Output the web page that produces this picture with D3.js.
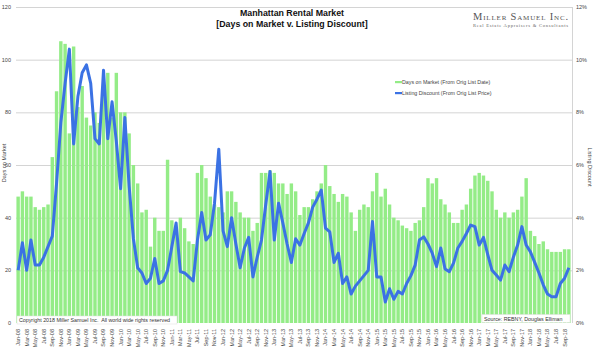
<!DOCTYPE html>
<html><head><meta charset="utf-8">
<script src="https://cdn.jsdelivr.net/npm/d3@7"></script>
<style>body{margin:0;background:#fff}svg{display:block}text{font-family:"Liberation Sans",Arial,sans-serif}</style>
</head><body><svg id="c" width="600" height="355"></svg>
<script>
const months = [
"Jan-08","Feb-08","Mar-08","Apr-08","May-08","Jun-08","Jul-08","Aug-08","Sep-08","Oct-08","Nov-08","Dec-08",
"Jan-09","Feb-09","Mar-09","Apr-09","May-09","Jun-09","Jul-09","Aug-09","Sep-09","Oct-09","Nov-09","Dec-09",
"Jan-10","Feb-10","Mar-10","Apr-10","May-10","Jun-10","Jul-10","Aug-10","Sep-10","Oct-10","Nov-10","Dec-10",
"Jan-11","Feb-11","Mar-11","Apr-11","May-11","Jun-11","Jul-11","Aug-11","Sep-11","Oct-11","Nov-11","Dec-11",
"Jan-12","Feb-12","Mar-12","Apr-12","May-12","Jun-12","Jul-12","Aug-12","Sep-12","Oct-12","Nov-12","Dec-12",
"Jan-13","Feb-13","Mar-13","Apr-13","May-13","Jun-13","Jul-13","Aug-13","Sep-13","Oct-13","Nov-13","Dec-13",
"Jan-14","Feb-14","Mar-14","Apr-14","May-14","Jun-14","Jul-14","Aug-14","Sep-14","Oct-14","Nov-14","Dec-14",
"Jan-15","Feb-15","Mar-15","Apr-15","May-15","Jun-15","Jul-15","Aug-15","Sep-15","Oct-15","Nov-15","Dec-15",
"Jan-16","Feb-16","Mar-16","Apr-16","May-16","Jun-16","Jul-16","Aug-16","Sep-16","Oct-16","Nov-16","Dec-16",
"Jan-17","Feb-17","Mar-17","Apr-17","May-17","Jun-17","Jul-17","Aug-17","Sep-17","Oct-17","Nov-17","Dec-17",
"Jan-18","Feb-18","Mar-18","Apr-18","May-18","Jun-18","Jul-18","Aug-18","Sep-18","Oct-18"];

const daysOnMarket = [
48,50,48,48,44,43,44,45,63,88,107,106,
72,105,82,90,78,75,80,76,90,95,78,95,
80,80,72,60,53,42,43,29,40,35,35,62,
39,35,40,36,31,30,57,60,55,48,45,44,
42,50,50,46,42,40,40,35,38,57,57,58,
57,53,53,49,53,50,41,44,44,47,50,53,
60,52,49,46,49,48,42,35,43,45,44,50,
57,48,51,45,40,39,37,36,35,38,39,44,
55,53,55,47,45,42,38,38,43,45,51,56,
57,56,54,50,43,40,42,40,42,43,48,55,
35,33,30,31,28,27,27,27,28,28];

const listingDiscount = [
2.0,3.05,2.0,3.15,2.2,2.2,2.5,2.9,3.3,5.3,7.6,9.1,
10.4,6.8,8.6,9.5,9.8,9.1,7.0,6.8,9.6,7.0,8.4,6.9,
5.1,7.8,5.2,3.2,2.1,1.9,1.5,1.7,2.45,1.5,1.6,2.0,
2.9,3.8,1.95,1.9,1.75,1.6,3.15,4.2,3.15,3.35,4.55,6.6,
3.5,2.9,4.0,3.0,2.1,2.85,3.25,1.75,2.5,3.15,4.5,5.75,
3.15,4.55,3.8,3.0,2.3,3.2,2.96,3.4,3.8,4.4,4.7,5.05,
3.6,3.46,2.3,2.65,1.5,1.75,1.1,1.4,1.6,1.8,2.0,3.85,
1.75,1.75,0.8,1.3,0.9,1.2,1.1,1.5,1.8,2.2,3.15,3.27,
3.0,2.65,2.14,2.85,2.05,1.95,2.28,2.85,3.1,3.4,3.72,3.66,
2.96,3.25,2.6,2.0,1.82,1.63,2.2,1.95,2.5,2.96,3.66,2.96,
2.7,2.3,1.9,1.45,1.1,1.0,1.0,1.5,1.7,2.1];

const leftTicks = [0,20,40,60,80,100,120];
const rightTicks = [0,2,4,6,8,10,12];
const seriesNames = ["Days on Market (From Orig List Date)","Listing Discount (From Orig List Price)"];

const GREEN = "#94ec87", BLUE = "#3b72e4", GRID = "#d4d4d4", TXT = "#444";
const svg = d3.select("#c");
const L = 16, R = 571, T = 7, B = 323;

const x = d3.scaleBand().domain(months).range([L, R]).paddingInner(0.2).paddingOuter(0.1);
const yL = d3.scaleLinear().domain([0, 120]).range([B, T]);
const yR = d3.scaleLinear().domain([0, 12]).range([B, T]);

// grid
svg.append("g").selectAll("line").data(leftTicks.filter(d => d > 0)).join("line")
  .attr("x1", L).attr("x2", R + 1).attr("y1", d => yL(d) + 0.5).attr("y2", d => yL(d) + 0.5)
  .attr("stroke", GRID).attr("stroke-width", 1);
svg.append("line").attr("x1", R + 1.5).attr("x2", R + 1.5).attr("y1", T).attr("y2", B)
  .attr("stroke", GRID);

// bars
svg.append("g").selectAll("rect").data(daysOnMarket).join("rect")
  .attr("x", (d, i) => x(months[i])).attr("width", x.bandwidth())
  .attr("y", d => yL(d)).attr("height", d => B - yL(d)).attr("fill", GREEN);

// line
const line = d3.line().x((d, i) => x(months[i]) + x.bandwidth() / 2).y(d => yR(d));
svg.append("path").datum(listingDiscount).attr("d", line).attr("fill", "none")
  .attr("stroke", BLUE).attr("stroke-width", 3).attr("stroke-linejoin", "round");

// left axis labels
svg.append("g").selectAll("text").data(leftTicks).join("text")
  .attr("x", 11).attr("y", d => yL(d)).attr("dy", "0.35em").attr("text-anchor", "end")
  .attr("font-size", 5.5).attr("fill", TXT).text(d => d);
// right axis labels
svg.append("g").selectAll("text").data(rightTicks).join("text")
  .attr("x", 576).attr("y", d => yR(d)).attr("dy", "0.35em")
  .attr("font-size", 5.5).attr("fill", TXT).text(d => d + "%");

// x labels
svg.append("g").selectAll("text").data(months.filter((m, i) => i % 2 === 0)).join("text")
  .attr("transform", d => `translate(${x(d) + x.bandwidth() / 2},329) rotate(-90)`)
  .attr("dy", "0.35em").attr("text-anchor", "end")
  .attr("font-size", 5.5).attr("fill", TXT).text(d => d);

// axis titles
svg.append("text").attr("transform", "translate(4,163) rotate(-90)").attr("text-anchor", "middle")
  .attr("dy", "0.35em").attr("font-size", 5.5).attr("fill", TXT).text("Days on Market");
svg.append("text").attr("transform", "translate(590,167) rotate(90)").attr("text-anchor", "middle")
  .attr("dy", "0.35em").attr("font-size", 5.5).attr("fill", TXT).text("Listing Discount");

// title
svg.append("text").attr("x", 292).attr("y", 16).attr("text-anchor", "middle")
  .attr("font-size", 8.8).attr("font-weight", "bold").attr("fill", "#111").text("Manhattan Rental Market");
svg.append("text").attr("x", 292).attr("y", 27).attr("text-anchor", "middle")
  .attr("font-size", 8.8).attr("font-weight", "bold").attr("fill", "#111").text("[Days on Market v. Listing Discount]");

// logo
svg.append("text").attr("x", 473).attr("y", 20)
  .style("font-family", "'Liberation Serif', serif").attr("font-size", 10.5).attr("fill", "#555")
  .style("font-variant", "small-caps").attr("textLength", 95).text("Miller Samuel Inc.");
svg.append("text").attr("x", 473).attr("y", 27).style("font-family", "'Liberation Serif', serif")
  .attr("font-size", 4.6).attr("fill", "#666").attr("textLength", 95)
  .text("Real Estate Appraisers & Consultants");

// legend
const lg = svg.append("g").selectAll("g").data(seriesNames).join("g")
  .attr("transform", (d, i) => `translate(395,${82 + i * 11})`);
lg.append("rect").attr("x", 0).attr("y", -1).attr("width", 7).attr("height", 2.2)
  .attr("fill", (d, i) => i === 0 ? GREEN : BLUE);
lg.append("text").attr("x", 7).attr("y", 0).attr("dy", "0.35em").attr("font-size", 5.3)
  .attr("fill", TXT).text(d => d);

// copyright box
svg.append("rect").attr("x", 17).attr("y", 316).attr("width", 160).attr("height", 8)
  .attr("fill", "#fff").attr("stroke", "#ddd").attr("stroke-width", 0.5);
svg.append("text").attr("x", 19).attr("y", 322).attr("font-size", 5.3).attr("fill", "#333")
  .attr("xml:space", "preserve").text("Copyright 2018 Miller Samuel Inc.  All world wide rights reserved");
// source box
svg.append("rect").attr("x", 482).attr("y", 314.5).attr("width", 88).attr("height", 8)
  .attr("fill", "#fff").attr("stroke", "#ddd").attr("stroke-width", 0.5);
svg.append("text").attr("x", 484).attr("y", 320.5).attr("font-size", 5.3).attr("fill", "#333")
  .text("Source: REBNY, Douglas Elliman");
</script></body></html>
